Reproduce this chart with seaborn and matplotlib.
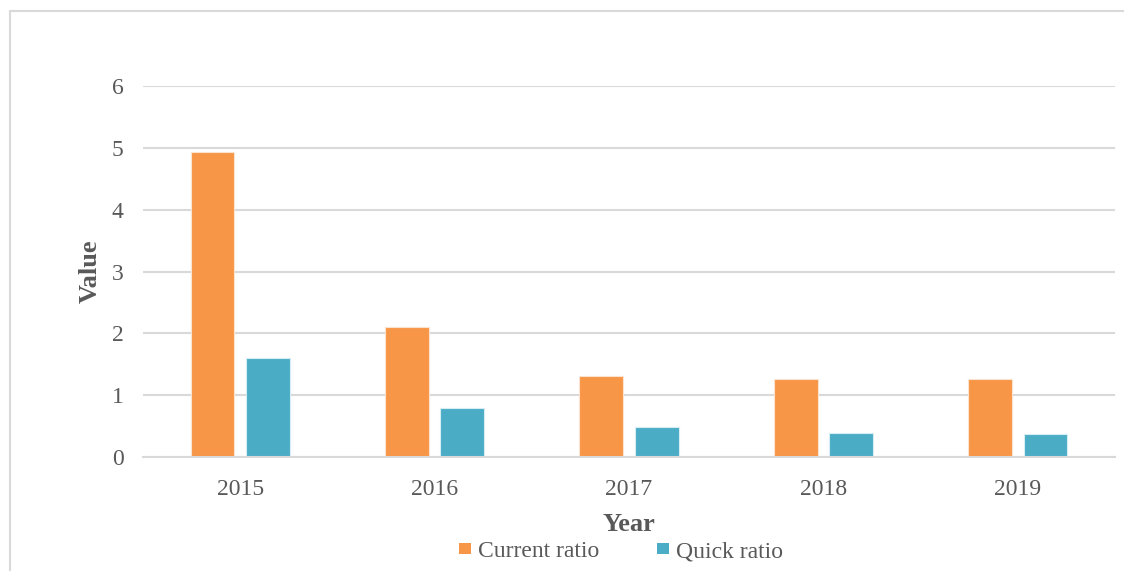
import matplotlib
matplotlib.use("Agg")
import matplotlib.pyplot as plt
from matplotlib.lines import Line2D
import seaborn as sns
import pandas as pd

years = ["2015", "2016", "2017", "2018", "2019"]
current_ratio = [4.93, 2.10, 1.31, 1.26, 1.26]
quick_ratio = [1.60, 0.79, 0.48, 0.39, 0.37]
series_names = ["Current ratio", "Quick ratio"]
colors = ["#F79646", "#4BACC6"]

df = pd.DataFrame({
    "Year": years * 2,
    "Value": current_ratio + quick_ratio,
    "Series": [series_names[0]] * len(years) + [series_names[1]] * len(years),
})

sns.set_theme(style="white")
plt.rcParams["font.family"] = ["Liberation Serif", "DejaVu Serif"]

fig = plt.figure(figsize=(11.24, 5.71), dpi=100)
ax = fig.add_axes([0.1272, 0.1996, 0.8648, 0.6497])

sns.barplot(
    data=df, x="Year", y="Value", hue="Series", palette=colors, saturation=1,
    width=0.57, gap=0.21, linewidth=0.8, edgecolor="#FBE3D0", ax=ax,
    legend=True,
)
for patch in ax.patches[len(years):2 * len(years)]:
    patch.set_edgecolor("#D5EDF3")

ax.set_ylim(0, 6)
ax.set_yticks(range(0, 7))
ax.yaxis.grid(True, color="#D9D9D9", linewidth=1.5)
ax.set_axisbelow(True)
for side in ["top", "right", "left"]:
    ax.spines[side].set_visible(False)
ax.spines["bottom"].set_color("#D9D9D9")
ax.spines["bottom"].set_linewidth(1.5)
ax.tick_params(axis="both", length=0, labelsize=17, labelcolor="#595959")
ax.tick_params(axis="y", pad=14)
ax.tick_params(axis="x", pad=16)

ax.set_xlabel("Year", fontsize=19, fontweight="bold", color="#595959", labelpad=9)
ax.set_ylabel("Value", fontsize=19, fontweight="bold", color="#595959", labelpad=7)

handles, labels = ax.get_legend_handles_labels()
for h in handles:
    h.set_edgecolor("none")
ax.legend(
    handles, labels, loc="center", bbox_to_anchor=(0.492, -0.255),
    ncol=2, frameon=False, fontsize=17, labelcolor="#595959",
    handlelength=0.5, handleheight=0.36, handletextpad=0.3, columnspacing=2.45,
    borderpad=0,
)

# outer chart frame (top and left edges visible)
fig.add_artist(Line2D([10 / 1124, 1.0], [1 - 11 / 571, 1 - 11 / 571],
                      color="#D9D9D9", linewidth=1.5, transform=fig.transFigure))
fig.add_artist(Line2D([10 / 1124, 10 / 1124], [0.0, 1 - 11 / 571],
                      color="#D9D9D9", linewidth=1.5, transform=fig.transFigure))

fig.savefig("out.png", dpi=100)
